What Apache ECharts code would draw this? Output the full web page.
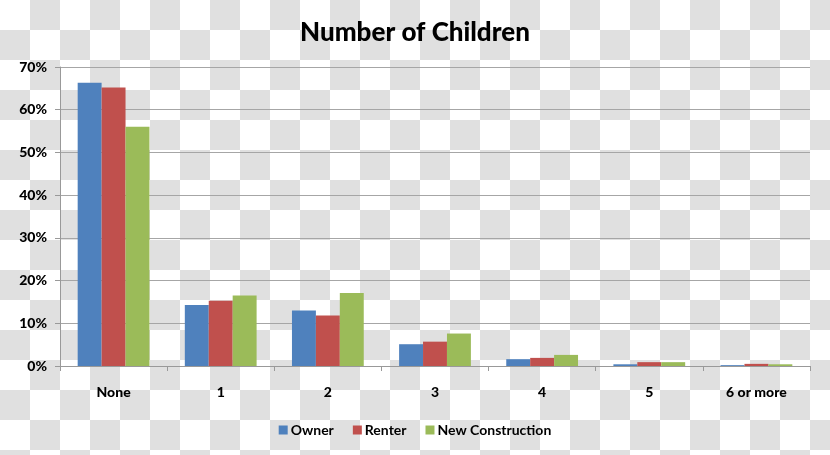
<!DOCTYPE html>
<html>
<head>
<meta charset="utf-8">
<script src="https://cdn.jsdelivr.net/npm/echarts@6/dist/echarts.min.js"></script>
<style>
html,body{margin:0;padding:0;}
body{width:830px;height:455px;background:repeating-conic-gradient(#e0e0e0 0 25%, #ffffff 0 50%) 0 0/60px 60px;}
#chart{width:830px;height:455px;}
</style>
</head>
<body>
<div id="chart"></div>
<script>
const titleText = 'Number of Children';
const categories = ['None', '1', '2', '3', '4', '5', '6 or more'];
const seriesNames = ['Owner', 'Renter', 'New Construction'];
const owner = [66.3, 14.3, 13.0, 5.1, 1.6, 0.4, 0.2];
const renter = [65.2, 15.3, 11.8, 5.7, 1.9, 0.9, 0.5];
const newConstruction = [56.0, 16.5, 17.1, 7.6, 2.6, 0.9, 0.4];
const yTicks = [0, 10, 20, 30, 40, 50, 60, 70];
const colors = ['#4F81BD', '#C0504D', '#9BBB59'];

const font = 'Lato, "Open Sans", sans-serif';
const chart = echarts.init(document.getElementById('chart'), null, {renderer: 'canvas'});
const dataSets = [owner, renter, newConstruction];
chart.setOption({
  backgroundColor: 'transparent',
  animation: false,
  title: {
    text: titleText, left: 'center', top: 15,
    textStyle: {fontFamily: font, fontWeight: 900, fontSize: 26, color: '#000'}
  },
  legend: {
    data: seriesNames, bottom: 13, left: 'center',
    icon: 'rect', itemWidth: 9, itemHeight: 9, itemGap: 19,
    textStyle: {fontFamily: font, fontWeight: 'bold', fontSize: 14, color: '#000', padding: [0,0,0,-2]}
  },
  grid: {left: 60, right: 20, top: 67, bottom: 89},
  xAxis: {
    type: 'category', data: categories,
    axisLine: {lineStyle: {color: '#999', width: 1}},
    axisTick: {show: true, length: 5, lineStyle: {color: '#999'}},
    axisLabel: {fontFamily: font, fontWeight: 900, fontSize: 14, color: '#000', margin: 19}
  },
  yAxis: {
    type: 'value', min: 0, max: yTicks[yTicks.length-1], interval: 10,
    axisLine: {show: true, lineStyle: {color: '#999'}},
    axisTick: {show: true, length: 5, lineStyle: {color: '#999'}},
    splitLine: {lineStyle: {color: '#a6a6a6'}},
    axisLabel: {formatter: '{value}%', fontFamily: font, fontWeight: 900, fontSize: 14, color: '#000', margin: 13}
  },
  series: seriesNames.map((n, i) => ({
    name: n, type: 'bar', data: dataSets[i],
    itemStyle: {color: colors[i]},
    barGap: '0%', barCategoryGap: '33%'
  }))
});
</script>
</body>
</html>
